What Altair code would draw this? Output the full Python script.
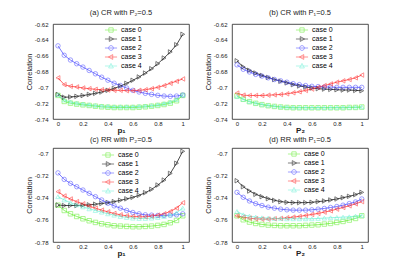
import altair as alt
import pandas as pd

X = [round(i * 0.05, 2) for i in range(21)]
CASES = ["case 0", "case 1", "case 2", "case 3", "case 4"]

# (a) CR with P2=0.5
A0 = [-0.7102, -0.7178, -0.7200, -0.7212, -0.7221, -0.7229, -0.7238, -0.7246, -0.7251, -0.7255, -0.7255,
      -0.7255, -0.7255, -0.7251, -0.7246, -0.7238, -0.7229, -0.7217, -0.7200, -0.7170, -0.7102]
A1 = [-0.7090, -0.7125, -0.7122, -0.7114, -0.7104, -0.7090, -0.7076, -0.7059, -0.7038, -0.7013, -0.6984,
      -0.6950, -0.6911, -0.6869, -0.6820, -0.6765, -0.6702, -0.6630, -0.6553, -0.6462, -0.6330]
A2 = [-0.6476, -0.6595, -0.6655, -0.6702, -0.6744, -0.6787, -0.6829, -0.6872, -0.6910, -0.6948, -0.6978,
      -0.7008, -0.7038, -0.7059, -0.7076, -0.7089, -0.7101, -0.7110, -0.7114, -0.7110, -0.7097]
A3 = [-0.6880, -0.6966, -0.6987, -0.6995, -0.7008, -0.7017, -0.7025, -0.7030, -0.7034, -0.7038, -0.7038,
      -0.7042, -0.7042, -0.7038, -0.7030, -0.7017, -0.7000, -0.6978, -0.6949, -0.6923, -0.6894]
A4 = [-0.7095, -0.7160, -0.7185, -0.7200, -0.7210, -0.7220, -0.7230, -0.7235, -0.7240, -0.7245, -0.7245,
      -0.7245, -0.7245, -0.7240, -0.7235, -0.7230, -0.7220, -0.7205, -0.7185, -0.7155, -0.7095]

# (b) CR with P1=0.5
B0 = [-0.7108, -0.7151, -0.7181, -0.7202, -0.7219, -0.7232, -0.7241, -0.7249, -0.7254, -0.7258, -0.7258,
      -0.7258, -0.7258, -0.7258, -0.7258, -0.7258, -0.7258, -0.7258, -0.7254, -0.7254, -0.7249]
B1 = [-0.6665, -0.6742, -0.6785, -0.6819, -0.6849, -0.6875, -0.6901, -0.6923, -0.6944, -0.6966, -0.6983,
      -0.6996, -0.7009, -0.7017, -0.7022, -0.7026, -0.7030, -0.7034, -0.7034, -0.7039, -0.7043]
B2 = [-0.6716, -0.6772, -0.6806, -0.6837, -0.6858, -0.6880, -0.6901, -0.6918, -0.6935, -0.6953, -0.6966,
      -0.6978, -0.6987, -0.6991, -0.6996, -0.6996, -0.7000, -0.7000, -0.7000, -0.7000, -0.7000]
B3 = [-0.7073, -0.7099, -0.7103, -0.7103, -0.7103, -0.7099, -0.7095, -0.7090, -0.7082, -0.7069, -0.7056,
      -0.7039, -0.7022, -0.7000, -0.6978, -0.6957, -0.6935, -0.6918, -0.6901, -0.6880, -0.6845]
B4 = [-0.7115, -0.7150, -0.7180, -0.7198, -0.7214, -0.7226, -0.7236, -0.7244, -0.7249, -0.7252, -0.7254,
      -0.7255, -0.7255, -0.7255, -0.7255, -0.7254, -0.7254, -0.7252, -0.7251, -0.7250, -0.7247]

# (c) RR with P2=0.5
C0 = [-0.7467, -0.7515, -0.7545, -0.7569, -0.7590, -0.7608, -0.7623, -0.7635, -0.7644, -0.7653, -0.7656,
      -0.7659, -0.7662, -0.7662, -0.7659, -0.7656, -0.7650, -0.7641, -0.7626, -0.7605, -0.7563]
C1 = [-0.7466, -0.7470, -0.7470, -0.7470, -0.7467, -0.7464, -0.7458, -0.7452, -0.7443, -0.7435, -0.7423,
      -0.7410, -0.7396, -0.7378, -0.7354, -0.7324, -0.7285, -0.7240, -0.7180, -0.7088, -0.6980]
C2 = [-0.7175, -0.7234, -0.7270, -0.7300, -0.7330, -0.7360, -0.7390, -0.7420, -0.7450, -0.7473, -0.7494,
      -0.7515, -0.7533, -0.7545, -0.7554, -0.7557, -0.7560, -0.7560, -0.7557, -0.7554, -0.7545]
C3 = [-0.7345, -0.7384, -0.7411, -0.7435, -0.7455, -0.7476, -0.7494, -0.7512, -0.7527, -0.7542, -0.7554,
      -0.7563, -0.7569, -0.7572, -0.7572, -0.7566, -0.7557, -0.7545, -0.7524, -0.7494, -0.7445]
C4 = [-0.7390, -0.7420, -0.7444, -0.7464, -0.7482, -0.7500, -0.7515, -0.7530, -0.7545, -0.7557, -0.7569,
      -0.7578, -0.7584, -0.7587, -0.7587, -0.7584, -0.7578, -0.7569, -0.7557, -0.7536, -0.7494]

# (d) RR with P1=0.5
D0 = [-0.7563, -0.7599, -0.7620, -0.7632, -0.7641, -0.7647, -0.7650, -0.7653, -0.7653, -0.7653, -0.7653,
      -0.7650, -0.7647, -0.7644, -0.7638, -0.7632, -0.7623, -0.7614, -0.7602, -0.7587, -0.7563]
D1 = [-0.7246, -0.7300, -0.7339, -0.7369, -0.7390, -0.7408, -0.7423, -0.7435, -0.7441, -0.7444, -0.7444,
      -0.7444, -0.7441, -0.7435, -0.7429, -0.7420, -0.7411, -0.7399, -0.7387, -0.7372, -0.7351]
D2 = [-0.7351, -0.7396, -0.7429, -0.7453, -0.7470, -0.7485, -0.7494, -0.7503, -0.7509, -0.7512, -0.7512,
      -0.7512, -0.7509, -0.7503, -0.7497, -0.7488, -0.7479, -0.7467, -0.7453, -0.7438, -0.7411]
D3 = [-0.7563, -0.7575, -0.7584, -0.7590, -0.7593, -0.7593, -0.7590, -0.7587, -0.7581, -0.7575, -0.7569,
      -0.7560, -0.7551, -0.7542, -0.7530, -0.7518, -0.7503, -0.7488, -0.7473, -0.7455, -0.7435]
D4 = [-0.7524, -0.7554, -0.7566, -0.7575, -0.7581, -0.7584, -0.7587, -0.7587, -0.7590, -0.7590, -0.7590,
      -0.7590, -0.7590, -0.7587, -0.7584, -0.7581, -0.7578, -0.7575, -0.7572, -0.7566, -0.7560]

TICKS_X = [0, 0.2, 0.4, 0.6, 0.8, 1]
TICKS_Y_CR = [-0.74, -0.72, -0.70, -0.68, -0.66, -0.64, -0.62]
TICKS_Y_RR = [-0.78, -0.76, -0.74, -0.72, -0.70]

COLORS = ["#66ee33", "#111111", "#4d4dff", "#ff3333", "#70f2d8"]
SHAPES = {"case 0": "square", "case 1": "triangle-right", "case 2": "circle",
          "case 3": "triangle-left", "case 4": "triangle-up"}
LEG_PATHS = [
    "M-1.4,0H1.4M-0.5,-0.5H0.5V0.5H-0.5Z",
    "M-1.4,0H1.4M-0.4,-0.55L0.6,0L-0.4,0.55Z",
    "M-1.4,0H1.4M0.55,0A0.55,0.55 0 1,1 -0.55,0A0.55,0.55 0 1,1 0.55,0",
    "M-1.4,0H1.4M0.4,-0.55L-0.6,0L0.4,0.55Z",
    "M-1.4,0H1.4M0,-0.6L0.55,0.45L-0.55,0.45Z",
]

FONT = "Liberation Sans"


def make_df(series):
    rows = []
    for case, vals in zip(CASES, series):
        for p, v in zip(X, vals):
            rows.append({"p": p, "corr": v, "case": case, "shape": SHAPES[case]})
    return pd.DataFrame(rows)


def panel(series, title, xtitle, ydomain, yticks, legx, legy, h):
    df = make_df(series)
    base = alt.Chart(df)
    x = alt.X("p:Q", scale=alt.Scale(domain=[-0.04, 1.05], nice=False, zero=False),
              axis=alt.Axis(values=TICKS_X, title=xtitle, labelExpr="format(datum.value, '~g')",
                            titleFontWeight="bold", titleFontSize=8, titlePadding=0,
                            labelPadding=1))
    y = alt.Y("corr:Q", scale=alt.Scale(domain=ydomain, nice=False, zero=False),
              axis=alt.Axis(values=yticks, title="Correlation",
                            labelExpr="replace(format(datum.value, '~g'), '\u2212', '-')",
                            titlePadding=1, labelPadding=5))
    cscale = alt.Scale(domain=CASES, range=COLORS)
    lines = base.mark_line(strokeWidth=0.75, clip=True).encode(
        x=x, y=y, color=alt.Color("case:N", scale=cscale, legend=None), detail="case:N")
    pts = base.mark_point(filled=False, size=20, strokeWidth=0.75, clip=True).encode(
        x=x, y=y, color=alt.Color("case:N", scale=cscale, legend=None),
        shape=alt.Shape("shape:N", scale=None))
    leg = alt.Legend(title=None, orient="none", legendX=legx, legendY=legy,
                     symbolSize=75, symbolStrokeWidth=0.75, rowPadding=0, labelOffset=5,
                     labelFontSize=7, labelFont=FONT, padding=0)
    legl = base.mark_point(filled=False, strokeWidth=0.75).encode(
        x=x, y=y,
        color=alt.Color("case:N", scale=cscale, legend=leg),
        shape=alt.Shape("case:N", scale=alt.Scale(domain=CASES, range=LEG_PATHS), legend=leg),
    ).transform_filter("datum.p > 5")
    return alt.layer(lines, pts, legl).resolve_scale(
        color="independent", shape="independent"
    ).properties(
        width=136, height=h,
        title=alt.TitleParams(title, fontSize=7.5, fontWeight="normal", font=FONT, offset=5),
    )


pa = panel([A0, A1, A2, A3, A4], "(a) CR with P\u2082=0.5", "p\u2081", [-0.74, -0.62], TICKS_Y_CR, 53, 1, 95)
pb = panel([B0, B1, B2, B3, B4], "(b) CR with P\u2081=0.5", "P\u2082", [-0.74, -0.62], TICKS_Y_CR, 65, 1, 95)
pc = panel([C0, C1, C2, C3, C4], "(c) RR with P\u2082=0.5", "p\u2081", [-0.78, -0.695], TICKS_Y_RR, 50, 2, 94)
pd_ = panel([D0, D1, D2, D3, D4], "(d) RR with P\u2081=0.5", "P\u2082", [-0.78, -0.695], TICKS_Y_RR, 57, 1, 94)

chart = alt.concat(pa, pb, pc, pd_, columns=2, spacing={"row": 0, "column": 13}).resolve_scale(
    color="independent", shape="independent"
).resolve_legend(color="independent", shape="independent").properties(
    padding={"left": 16, "top": 0, "right": 0, "bottom": 0}
).configure(font=FONT).configure_view(stroke="#222222", strokeWidth=0.8).configure_axis(
    domain=False, ticks=False, grid=False, labelFontSize=6, titleFontSize=7.5,
    titleFontWeight="normal", labelColor="#222222", titleColor="#222222", labelFont=FONT, titleFont=FONT,
).configure_title(color="#222222")

chart.save("out.html", embed_options={"renderer": "svg", "actions": False})
